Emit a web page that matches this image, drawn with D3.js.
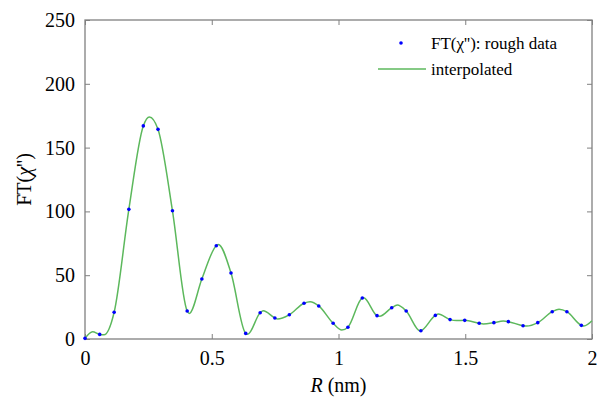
<!DOCTYPE html>
<html>
<head>
<meta charset="utf-8">
<script src="https://cdn.jsdelivr.net/npm/d3@7"></script>
</head>
<body style="margin:0;background:#fff">
<svg id="chart" width="597" height="398"></svg>
<script>
// rough data points (FT of chi'')
const roughR = [0.000, 0.058, 0.115, 0.173, 0.230, 0.288, 0.345, 0.403, 0.461, 0.518,
  0.576, 0.634, 0.691, 0.749, 0.806, 0.864, 0.922, 0.979, 1.037, 1.094,
  1.152, 1.210, 1.267, 1.325, 1.382, 1.440, 1.498, 1.555, 1.613, 1.670,
  1.728, 1.786, 1.843, 1.901, 1.958];
const roughFT = [0.5, 3.6, 21, 101.6, 167, 164.3, 100.5, 22, 47, 73.1,
  51.7, 4.4, 20.6, 16.5, 19, 28, 25.9, 12.3, 9.2, 32.1,
  18.3, 24.5, 21.9, 6.5, 18.5, 15.2, 14.6, 12.3, 12.8, 13.6,
  10.4, 12.8, 21.4, 21.4, 10.7];

// interpolated curve, knots
const interpR = [0.000, 0.030, 0.058, 0.075, 0.115, 0.173, 0.230, 0.254, 0.288, 0.345,
  0.403, 0.411, 0.461, 0.518, 0.526, 0.576, 0.634, 0.642, 0.691, 0.703,
  0.749, 0.760, 0.806, 0.864, 0.888, 0.922, 0.979, 1.013, 1.037, 1.094,
  1.099, 1.152, 1.162, 1.210, 1.232, 1.267, 1.322, 1.382, 1.394, 1.440,
  1.466, 1.498, 1.555, 1.571, 1.613, 1.650, 1.670, 1.728, 1.742, 1.786,
  1.843, 1.870, 1.901, 1.958, 1.968, 2.000];
const interpFT = [0.5, 5.7, 3.6, 3.3, 21, 101.6, 167, 174, 164.3, 100.5,
  22, 20, 47, 73.1, 74, 51.7, 4.4, 3.8, 20.6, 22.2,
  16.5, 15.6, 19, 28, 29.2, 25.9, 12.3, 7, 9.2, 32.1,
  32.3, 18.3, 17.8, 24.5, 26.6, 21.9, 6.3, 18.5, 19.6, 15.2,
  14.5, 14.6, 12.3, 11.8, 12.8, 14.1, 13.6, 10.4, 10.1, 12.8,
  21.4, 23.4, 21.4, 10.7, 10.2, 14.3];

const xTicks = [0, 0.5, 1, 1.5, 2];
const yTicks = [0, 50, 100, 150, 200, 250];

const margin = { top: 20, right: 5, bottom: 59, left: 85 };
const width = 597, height = 398;
const w = width - margin.left - margin.right;
const h = height - margin.top - margin.bottom;

const svg = d3.select("#chart");
const g = svg.append("g").attr("transform", `translate(${margin.left},${margin.top})`);

const x = d3.scaleLinear().domain([0, 2]).range([0, w]);
const y = d3.scaleLinear().domain([0, 250]).range([h, 0]);

const axisColor = "#808080";
const tickLen = 5;

// axes with inward ticks
const styleAxis = sel => {
  sel.attr("font-family", null).attr("font-size", null);
  sel.select(".domain").remove();
  sel.selectAll(".tick line").attr("stroke", axisColor);
  sel.selectAll(".tick text").attr("fill", "#000").attr("class", "lbl").style("font-size", "20px");
};

g.append("g").attr("transform", `translate(0,${h})`)
  .call(d3.axisBottom(x).tickValues(xTicks).tickFormat(d3.format("")).tickSizeInner(-tickLen).tickSizeOuter(0).tickPadding(12))
  .call(styleAxis);
g.append("g")
  .call(d3.axisTop(x).tickValues(xTicks).tickFormat("").tickSizeInner(-tickLen).tickSizeOuter(0))
  .call(styleAxis);
g.append("g")
  .call(d3.axisLeft(y).tickValues(yTicks).tickSizeInner(-tickLen).tickSizeOuter(0).tickPadding(10))
  .call(styleAxis);
g.append("g").attr("transform", `translate(${w},0)`)
  .call(d3.axisRight(y).tickValues(yTicks).tickFormat("").tickSizeInner(-tickLen).tickSizeOuter(0))
  .call(styleAxis);

g.append("rect").attr("width", w).attr("height", h)
  .attr("fill", "none").attr("stroke", axisColor).attr("stroke-width", 1.3);

// interpolated line
const curve = interpR.map((r, i) => [r, interpFT[i]]);
g.append("path").datum(curve)
  .attr("fill", "none").attr("stroke", "#5cb85c").attr("stroke-width", 1.5)
  .attr("d", d3.line().x(d => x(d[0])).y(d => y(d[1])).curve(d3.curveMonotoneX));

// rough points
g.selectAll(".pt").data(roughR.map((r, i) => [r, roughFT[i]]))
  .join("circle").attr("class", "pt")
  .attr("cx", d => x(d[0])).attr("cy", d => y(d[1]))
  .attr("r", 1.8).attr("fill", "#0000ff");

// axis labels
const xl = svg.append("text").attr("x", margin.left + w / 2).attr("y", 392)
  .attr("text-anchor", "middle").style("font-size", "20px");
xl.append("tspan").style("font-style", "italic").text("R");
xl.append("tspan").text(" (nm)");

const yl = svg.append("text")
  .attr("transform", `translate(31,${margin.top + h / 2}) rotate(-90)`)
  .attr("text-anchor", "middle").style("font-size", "20px");
yl.append("tspan").text("FT(");
yl.append("tspan").style("font-style", "italic").text("χ");
yl.append("tspan").text("'')");

// legend
const lg = svg.append("g");
lg.append("circle").attr("cx", 401).attr("cy", 43).attr("r", 1.8).attr("fill", "#0000ff");
lg.append("text").attr("x", 431).attr("y", 49).style("font-size", "17px")
  .text("FT(χ''): rough data");
lg.append("line").attr("x1", 378).attr("x2", 426).attr("y1", 69).attr("y2", 69)
  .attr("stroke", "#5cb85c").attr("stroke-width", 1.5);
lg.append("text").attr("x", 431).attr("y", 75).style("font-size", "17px")
  .text("interpolated");

// serif everywhere
svg.selectAll("text").style("font-family", "'Liberation Serif', 'Times New Roman', serif");
</script>
</body>
</html>
